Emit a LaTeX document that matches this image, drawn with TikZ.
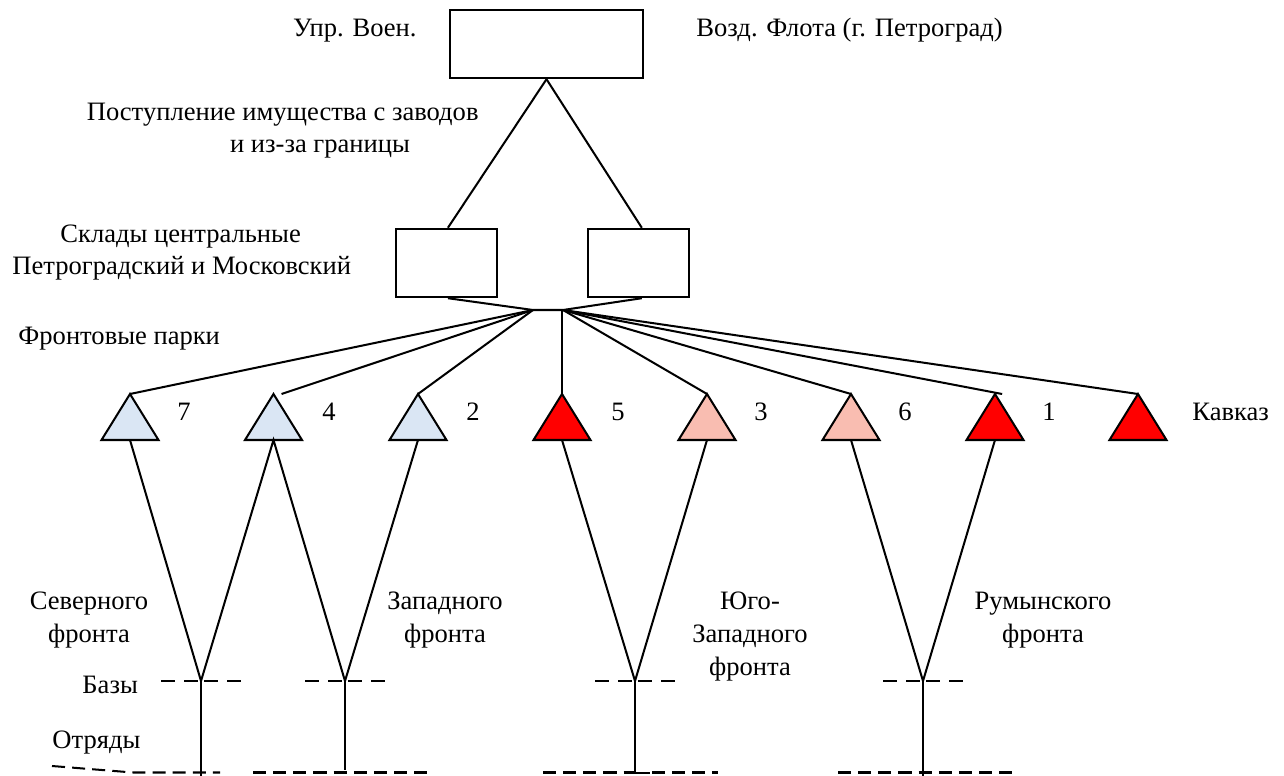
\documentclass[tikz,border=0pt]{standalone}
\usepackage{fontspec}
\setmainfont{Liberation Serif}
\definecolor{parkblue}{HTML}{DAE6F4}
\definecolor{parkpink}{HTML}{F9BDB1}
\definecolor{parkred}{HTML}{FF0000}
% one front park: apex (#1), base centre (#1b)
\newcommand\parktri[3]{%
  \coordinate (#1) at (#2,394);
  \coordinate (#1b) at (#2,440);
  \filldraw[tri, fill=#3] (#1) -- ++(-28.5,46) -- ++(57,0) -- cycle;}
\begin{document}
\begin{tikzpicture}[x=0.4217pt, y=-0.4217pt,
  font=\fontsize{11.2}{13.9}\selectfont,
  lbl/.style={inner sep=0pt, anchor=base west},
  lblc/.style={inner sep=0pt, anchor=base, align=center},
  box/.style={draw, line width=1pt, inner sep=0pt, minimum height=28.7pt},
  link/.style={line width=0.85pt},
  tri/.style={line width=0.85pt, line join=miter},
  basedash/.style={line width=0.85pt, dash pattern=on 5.9pt off 3.8pt, dash phase=8.4pt},
  unitdash/.style={line width=0.85pt, dash pattern=on 5.5pt off 3pt}]
\useasboundingbox (0,0) rectangle (1284,776);

% boxes
\node[box, minimum width=81.4pt] (top) at (546.5,44) {};
\node[box, minimum width=42.6pt] (lbox) at (446.5,263) {};
\node[box, minimum width=42.6pt] (rbox) at (638.5,263) {};

% texts
\node[lbl, anchor=base east] (upr) at (417,37) {Упр. Воен.};
\node[lbl] (vozd) at (696,37) {Возд. Флота (г. Петроград)};
\node[lbl, anchor=base east] (post1) at (479,121) {Поступление имущества с заводов};
\node[lblc] (post2) at (320,153) {и из-за границы};
\node[lbl] (skl1) at (60,243) {Склады центральные};
\node[lbl] (skl2) at (12,275) {Петроградский и Московский};
\node[lbl] (fp) at (18,345) {Фронтовые парки};

% supply from the directorate to the central stores
\draw[link] (top.south) -- ([xshift=0.6pt]lbox.north);
\draw[link] (top.south) -- ([xshift=1.4pt]rbox.north);

% distribution hub
\coordinate (hl) at (533,310);
\coordinate (hr) at (563,310);
\coordinate (hv) at (562,310);
\draw[link] ([xshift=0.6pt]lbox.south) -- (hl) -- (hr) -- ([xshift=1.4pt]rbox.south);

% front parks
\parktri{t7}{130}{parkblue}
\parktri{t4}{273.5}{parkblue}
\parktri{t2}{418}{parkblue}
\parktri{t5}{562}{parkred}
\parktri{t3}{707}{parkpink}
\parktri{t6}{851}{parkpink}
\parktri{t1}{995}{parkred}
\parktri{tk}{1138}{parkred}

\draw[link] (hl) -- (t7);
\draw[link] (hl) -- ([xshift=3.4pt]t4);
\draw[link] (hl) -- (t2);
\draw[link] (hv) -- (t5);
\draw[link] (hr) -- (t3);
\draw[link] (hr) -- (t6);
\draw[link] (hr) -- ([xshift=3pt]t1);
\draw[link] (hr) -- (tk);

\foreach \n/\x in {7/184, 4/329, 2/473, 5/618, 3/761, 6/905, 1/1049}
  \node[lblc] (num\n) at (\x,420) {\n};
\node[lbl] (kavkaz) at (1192,420) {Кавказ};

% bases of the fronts
\coordinate (j1) at (201,681);
\coordinate (j2) at (345,681);
\coordinate (j3) at (635,681);
\coordinate (j4) at (923,681);
\draw[link] (t7b) -- (j1) -- (t4b) -- (j2) -- (t2b);
\draw[link] (t5b) -- (j3) -- (t3b);
\draw[link] (t6b) -- (j4) -- (t1b);
\foreach \j in {j1,j2,j3,j4} {
  \draw[basedash] (\j) -- ++(-42,0);
  \draw[basedash] (\j) -- ++(42,0);
}

\node[lblc] (sev) at (89,642) {Северного\\фронта};
\node[lblc] (zap) at (445,642) {Западного\\фронта};
\node[lblc] (yuz) at (750,675) {Юго-\\Западного\\фронта};
\node[lblc] (rum) at (1043,642) {Румынского\\фронта};
\node[lbl] (bazy) at (82,693) {Базы};
\node[lbl] (otr) at (52,748) {Отряды};

% units (detachments)
\coordinate (u1) at (201,776);
\coordinate (u2) at (345,770);
\coordinate (u3) at (635,773);
\coordinate (u3r) at (650,773);
\coordinate (u4) at (923,776);
\draw[link] (j1) -- (u1);
\draw[link] (j2) -- (u2);
\draw[link] (j3) -- (u3) -- (u3r);
\draw[link] (j4) -- (u4);
\draw[unitdash] (52,766) -- (133,772.5) -- (220,772.5);
\draw[unitdash] (253,772.5) -- (432,772.5);
\draw[unitdash] (543,772.5) -- (634,772.5);
\draw[unitdash] (652,772.5) -- (718,772.5);
\draw[unitdash] (838,772.5) -- (1012,772.5);
\end{tikzpicture}
\end{document}
